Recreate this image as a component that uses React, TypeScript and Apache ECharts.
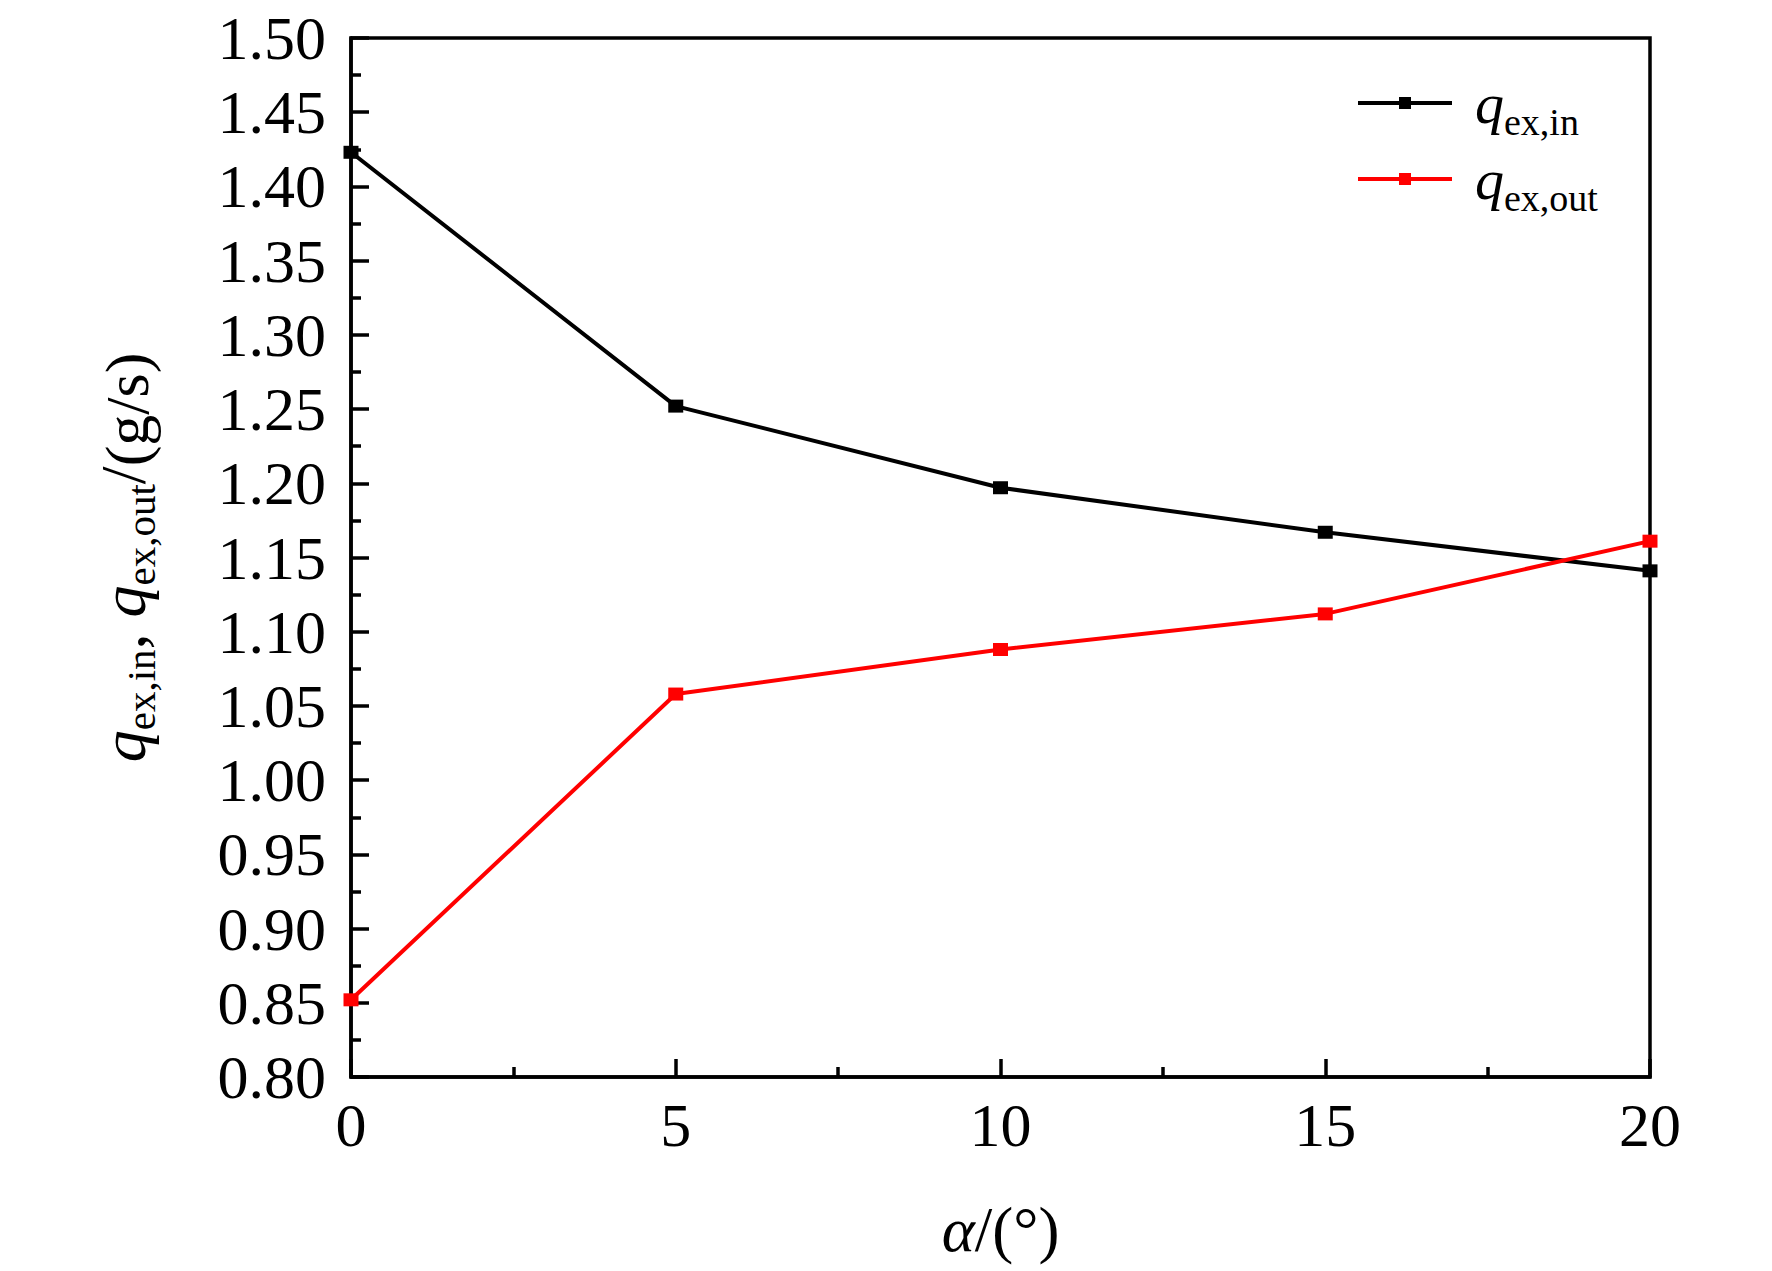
import React, { useEffect, useRef } from 'react';
import * as echarts from 'echarts';

const ALPHA = [0, 5, 10, 15, 20];
const Q_EX_IN = [1.423, 1.252, 1.197, 1.167, 1.141];
const Q_EX_OUT = [0.852, 1.058, 1.088, 1.112, 1.161];
const SERIES_NAMES = ['q_ex,in', 'q_ex,out'];
const LEGEND_SUBS = ['ex,in', 'ex,out'];
const SERIES_COLORS = ['#000000', '#ff0000'];
const Y_MIN = 0.8;
const Y_MAX = 1.5;
const Y_STEP = 0.05;
const X_MIN = 0;
const X_MAX = 20;
const X_STEP = 5;

const FF = "'Liberation Serif', 'Times New Roman', serif";

export default function App() {
  const ref = useRef<HTMLDivElement>(null);
  useEffect(() => {
    const chart = echarts.init(ref.current!, null, { renderer: 'svg' });
    const tick = { inside: true, length: 18, lineStyle: { width: 3.5, color: '#000' } };
    const minor = { show: true, splitNumber: 2, length: 10, lineStyle: { width: 3.5, color: '#000' } };
    const axisLine = { show: true, lineStyle: { width: 3.5, color: '#000' } };
    const series = [Q_EX_IN, Q_EX_OUT].map((vals, si) => ({
      name: SERIES_NAMES[si],
      type: 'line',
      data: ALPHA.map((x, i) => [x, vals[i]]),
      symbol: 'rect',
      symbolSize: [15, 13],
      color: SERIES_COLORS[si],
      lineStyle: { width: 4, color: SERIES_COLORS[si] },
      itemStyle: { color: SERIES_COLORS[si] },
    }));
    chart.setOption({
      animation: false,
      backgroundColor: '#fff',
      grid: {
        left: 351, top: 38, width: 1299, height: 1039,
        show: true, borderColor: '#000', borderWidth: 3.5, backgroundColor: 'transparent',
      },
      xAxis: {
        type: 'value', min: X_MIN, max: X_MAX, interval: X_STEP,
        axisLine, axisTick: tick, minorTick: minor,
        splitLine: { show: false },
        axisLabel: { fontFamily: FF, fontSize: 62, color: '#000', margin: 17 },
        name: '{a|α}{n|/(°)}',
        nameLocation: 'middle',
        nameGap: 121,
        nameTextStyle: {
          rich: {
            a: { fontFamily: FF, fontSize: 63, fontStyle: 'italic', color: '#000' },
            n: { fontFamily: FF, fontSize: 63, color: '#000' },
          },
        },
      },
      yAxis: {
        type: 'value', min: Y_MIN, max: Y_MAX, interval: Y_STEP,
        axisLine, axisTick: tick, minorTick: minor,
        splitLine: { show: false },
        axisLabel: {
          fontFamily: FF, fontSize: 62, color: '#000', margin: 25,
          formatter: (v: number) => v.toFixed(2),
        },
        name: '{q|q}{s|ex,in}{n|, }{q|q}{s|ex,out}{n|/}{p|(g/s)}',
        nameLocation: 'middle',
        nameGap: 190,
        nameTextStyle: {
          rich: {
            q: { fontFamily: FF, fontSize: 64, fontStyle: 'italic', color: '#000' },
            s: { fontFamily: FF, fontSize: 41, color: '#000', padding: [35, 0, 0, 0] },
            n: { fontFamily: FF, fontSize: 64, color: '#000' },
            p: { fontFamily: FF, fontSize: 62, color: '#000', padding: [8, 0, 0, 0] },
          },
        },
      },
      legend: {
        orient: 'vertical',
        left: 1356,
        top: 74,
        padding: 0,
        itemGap: 9,
        itemWidth: 94,
        itemHeight: 15,
        lineStyle: { width: 4 },
        data: SERIES_NAMES,
        formatter: (name: string) => `{q|q}{s|${LEGEND_SUBS[SERIES_NAMES.indexOf(name)]}}`,
        textStyle: {
          fontFamily: FF,
          rich: {
            q: { fontFamily: FF, fontSize: 58, fontStyle: 'italic', color: '#000', padding: [0, 0, 0, 18] },
            s: { fontFamily: FF, fontSize: 38, color: '#000', padding: [38, 0, 0, 0] },
          },
        },
      },
      series,
    });
    return () => chart.dispose();
  }, []);
  return (
    <div
      ref={ref}
      style={{ position: 'fixed', left: 0, top: 0, width: 1772, height: 1271, background: '#fff' }}
    />
  );
}
